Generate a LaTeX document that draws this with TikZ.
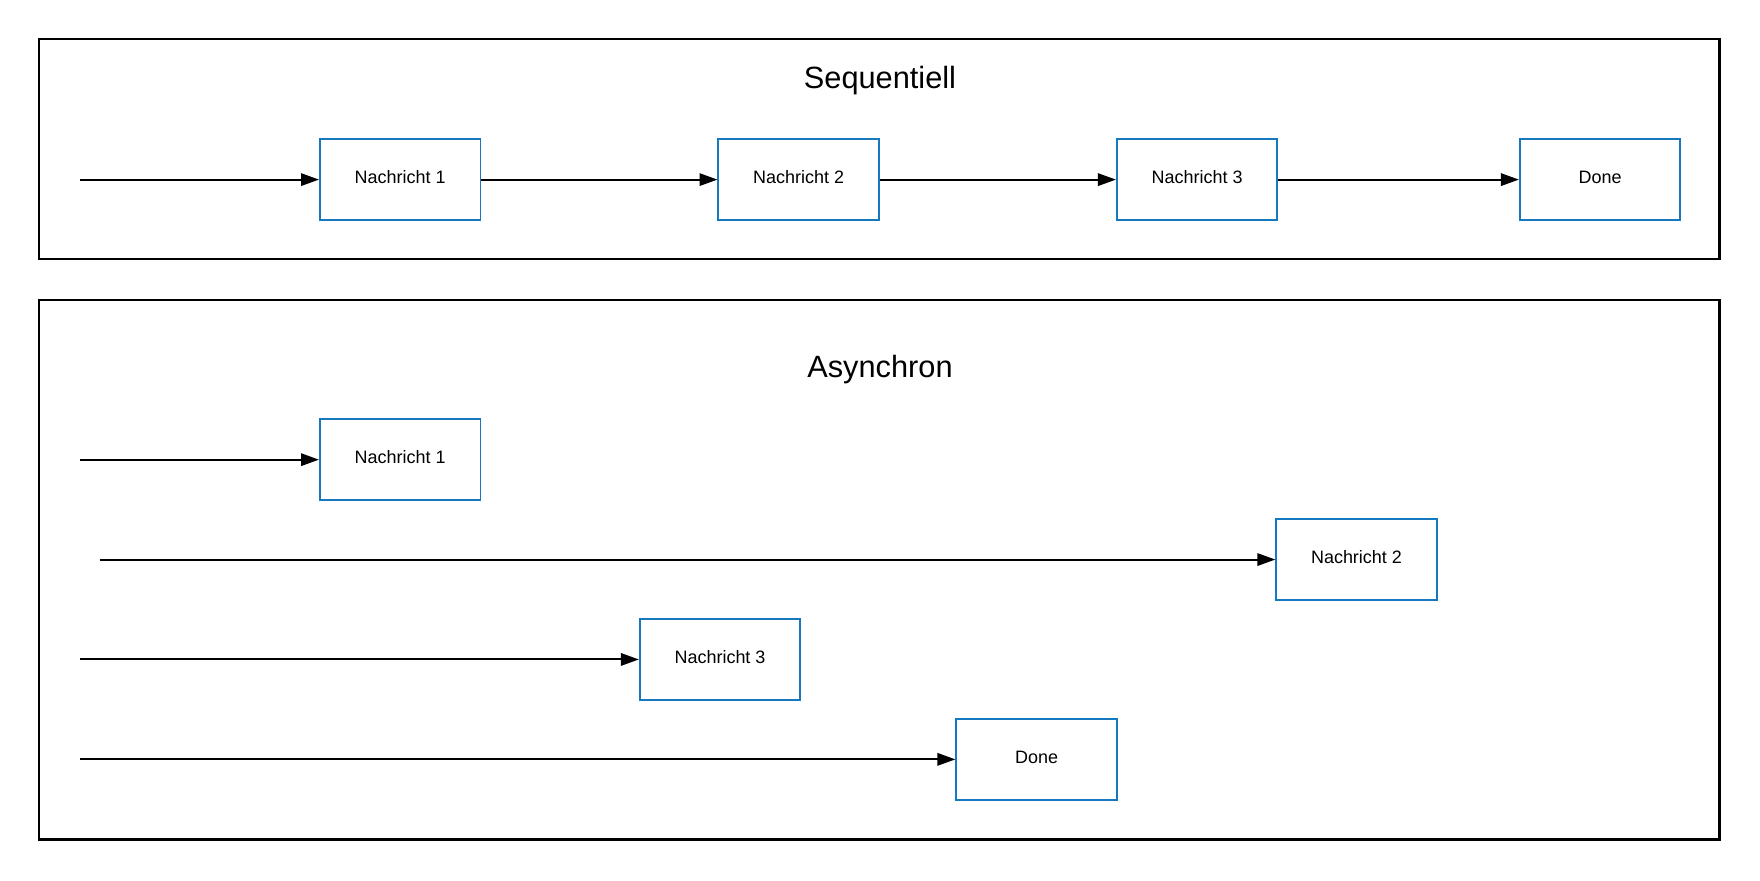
\documentclass[tikz,border=0pt]{standalone}
\usepackage{fontspec}
\setmainfont{Liberation Sans}
\usetikzlibrary{arrows.meta}
\definecolor{msgblue}{RGB}{22,121,190}
\begin{document}
\begin{tikzpicture}[x=0.5pt,y=-0.5pt,
frm/.style = {draw,line width=1pt},
ttl/.style = {font=\fontsize{13.7}{16}\selectfont},
msg/.style = {draw=msgblue,line width=0.8pt,minimum width=71.5pt,minimum height=36pt,inner sep=0pt,text depth=2pt,font=\fontsize{8}{10}\selectfont},
medge/.style = {-{Triangle[length=8pt,width=5.5pt]}, line width=0.9pt}
]
  \useasboundingbox (0,0) rectangle (1568,784);

  % sequentiell
  \draw[frm] (35,35) rectangle (1532,231);
  \node[ttl] (tseq) at (784,72) {Sequentiell};
  \coordinate (s0) at (71,160);
  \node[msg] (s1) at (356.5,160) {Nachricht 1};
  \node[msg] (s2) at (711.5,160) {Nachricht 2};
  \node[msg] (s3) at (1066.5,160) {Nachricht 3};
  \node[msg] (s4) at (1425.5,160) {Done};

  \draw[medge] (s0) -- (s1);
  \draw[medge] (s1) -- (s2);
  \draw[medge] (s2) -- (s3);
  \draw[medge] (s3) -- (s4);

  % asynchron
  \draw[frm] (35,267) rectangle (1532,748);
  \node[ttl] (tasy) at (784,329) {Asynchron};
  \coordinate (a0) at (71,409.5);
  \coordinate (b0) at (89,498.5);
  \coordinate (c0) at (71,587.5);
  \coordinate (d0) at (71,676.5);
  \node[msg] (a1) at (356.5,409.5) {Nachricht 1};
  \node[msg] (b1) at (1208.5,498.5) {Nachricht 2};
  \node[msg] (c1) at (641.5,587.5) {Nachricht 3};
  \node[msg] (d1) at (923.5,676.5) {Done};

  \draw[medge] (a0) -- (a1);
  \draw[medge] (b0) -- (b1);
  \draw[medge] (c0) -- (c1);
  \draw[medge] (d0) -- (d1);
\end{tikzpicture}
\end{document}
